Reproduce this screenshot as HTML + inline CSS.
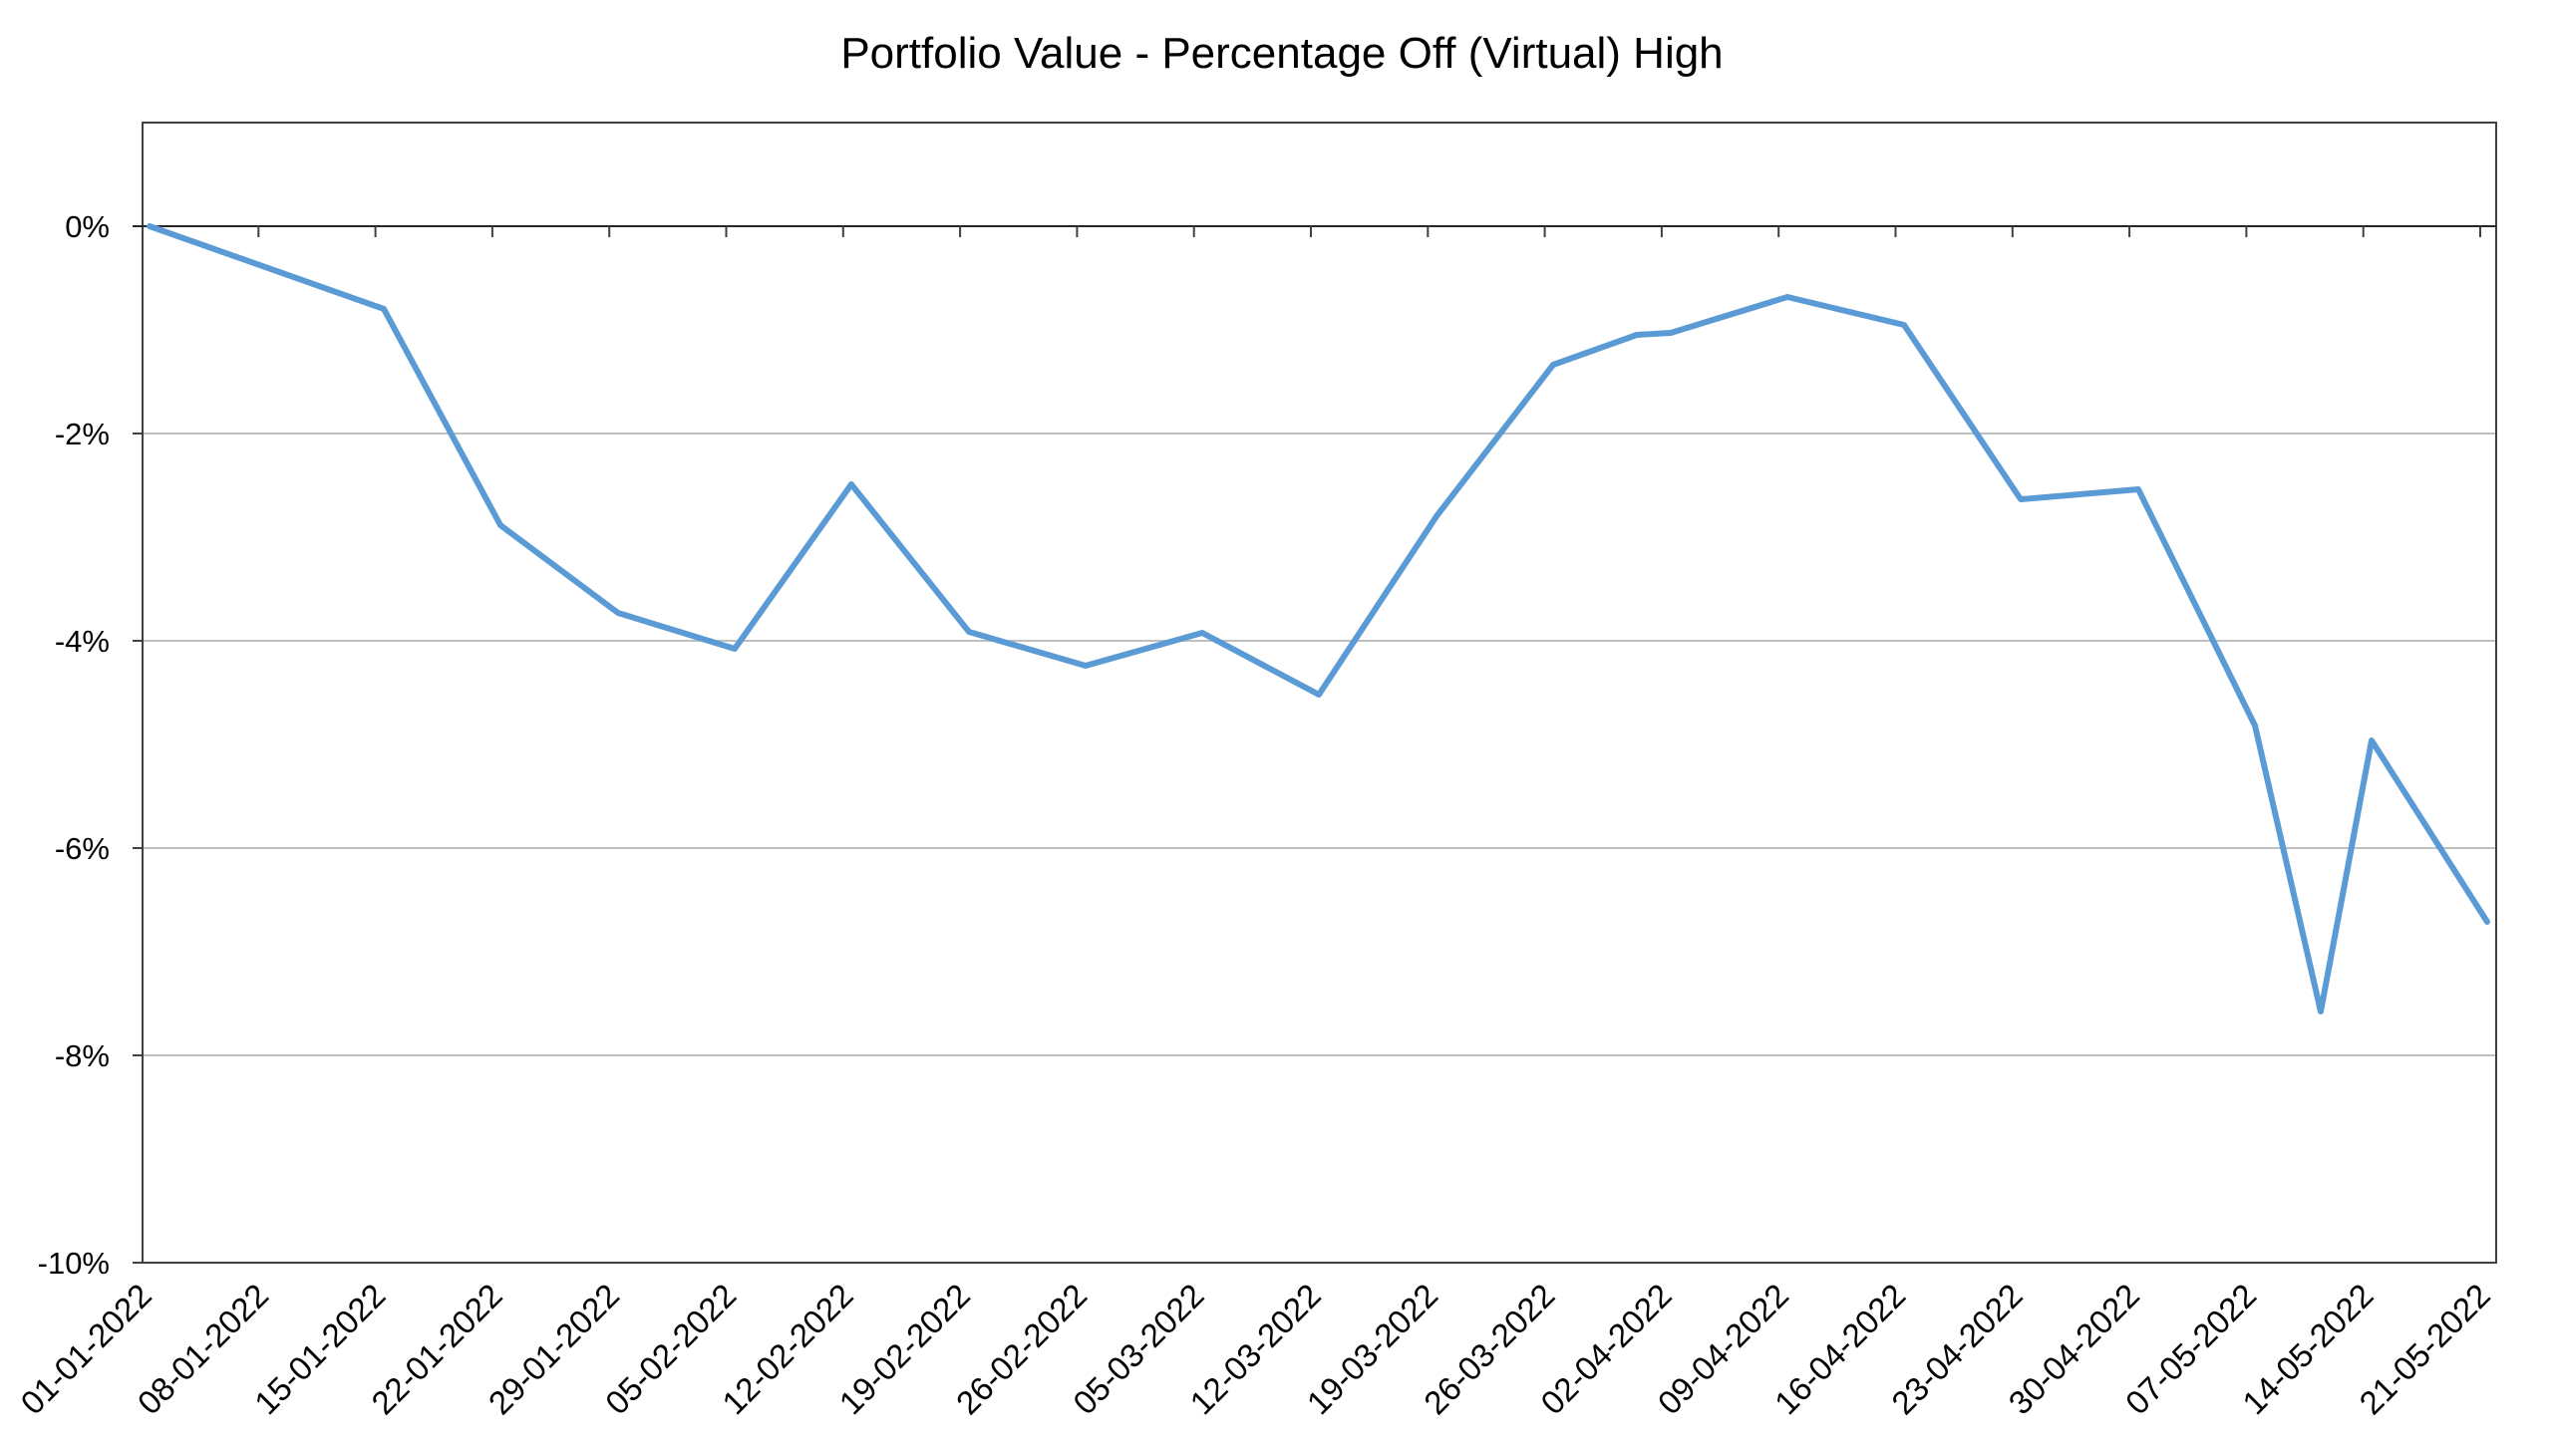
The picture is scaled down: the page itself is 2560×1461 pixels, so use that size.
<!DOCTYPE html>
<html><head><meta charset="utf-8"><style>
html,body{margin:0;padding:0;background:#fff;}
svg{display:block;font-family:"Liberation Sans",sans-serif;}
</style></head><body>
<svg width="2560" height="1461" viewBox="0 0 2560 1461" xmlns="http://www.w3.org/2000/svg">
<rect width="2560" height="1461" fill="#fff"/>
<text x="1286" y="68" font-size="44" text-anchor="middle" fill="#000">Portfolio Value - Percentage Off (Virtual) High</text>
<g stroke="#bfbfbf" stroke-width="2">
<line x1="143" y1="435" x2="2504" y2="435"/>
<line x1="143" y1="643" x2="2504" y2="643"/>
<line x1="143" y1="851" x2="2504" y2="851"/>
<line x1="143" y1="1059" x2="2504" y2="1059"/>
</g>
<rect x="143" y="123" width="2361" height="1144" fill="none" stroke="#404040" stroke-width="2"/>
<line x1="133" y1="227" x2="2504" y2="227" stroke="#262626" stroke-width="2"/>
<g stroke="#404040" stroke-width="2">
<line x1="133" y1="435" x2="143" y2="435"/><line x1="133" y1="643" x2="143" y2="643"/>
<line x1="133" y1="851" x2="143" y2="851"/><line x1="133" y1="1059" x2="143" y2="1059"/>
<line x1="133" y1="1267" x2="143" y2="1267"/>
</g>
<g font-size="31" text-anchor="end" fill="#000">
<text x="110" y="238">0%</text><text x="110" y="446">-2%</text><text x="110" y="654">-4%</text>
<text x="110" y="862">-6%</text><text x="110" y="1070">-8%</text><text x="110" y="1278">-10%</text>
</g>
<g id="ticks" stroke="#404040" stroke-width="2"></g>
<g id="labels" font-size="33" text-anchor="end" fill="#000"></g>
<polyline fill="none" stroke="#5b9bd5" stroke-width="6" stroke-linejoin="round" stroke-linecap="round"
points="150,227 385,310 502,527 620,615 737,651 854,486 972,634 1089,668 1206,635 1323,697 1441,518 1558,366 1642,336 1676,334 1793,298 1910,326 2027,501 2145,491 2262,728 2328,1015 2379,743 2495,925"/>
<script>
var labs=["01-01-2022","08-01-2022","15-01-2022","22-01-2022","29-01-2022","05-02-2022","12-02-2022","19-02-2022","26-02-2022","05-03-2022","12-03-2022","19-03-2022","26-03-2022","02-04-2022","09-04-2022","16-04-2022","23-04-2022","30-04-2022","07-05-2022","14-05-2022","21-05-2022"];
var ns="http://www.w3.org/2000/svg",t=document.getElementById("ticks"),l=document.getElementById("labels");
for(var k=0;k<21;k++){var x=142+117.3*k;
if(k>0){var ln=document.createElementNS(ns,"line");ln.setAttribute("x1",x);ln.setAttribute("x2",x);ln.setAttribute("y1",227);ln.setAttribute("y2",238);t.appendChild(ln);}
var tx=document.createElementNS(ns,"text");tx.setAttribute("x",x+12);tx.setAttribute("y",1302);tx.setAttribute("transform","rotate(-45 "+(x+12)+" 1302)");tx.textContent=labs[k];l.appendChild(tx);}
</script>
</svg>
</body></html>
